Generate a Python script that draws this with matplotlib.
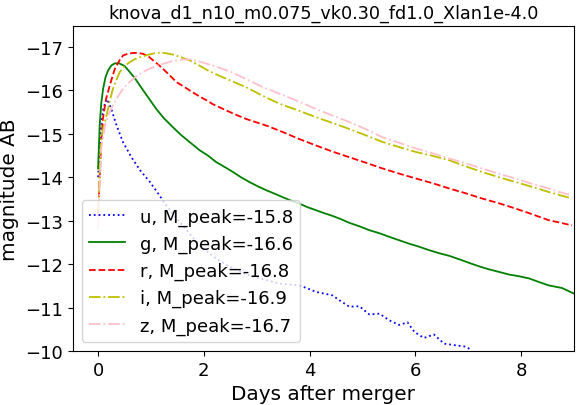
import numpy as np
from matplotlib import pyplot as plt

title = "knova_d1_n10_m0.075_vk0.30_fd1.0_Xlan1e-4.0"
bands = ["u", "g", "r", "i", "z"]
peaks = [-15.8, -16.6, -16.8, -16.9, -16.7]

t_u = [0.0, 0.05, 0.1, 0.17, 0.25, 0.35, 0.47, 0.63, 0.8, 0.98, 1.15, 1.29, 1.45, 1.6,
       1.75, 1.92, 2.08, 2.23, 2.4, 2.55, 2.7, 2.86, 3.02, 3.18, 3.34, 3.5, 3.65, 3.8,
       3.96, 4.12, 4.28, 4.43, 4.56, 4.75, 4.94, 5.13, 5.32, 5.5, 5.69, 5.85, 5.98,
       6.16, 6.35, 6.54, 6.76, 6.95, 7.02]
m_u = [-14.0, -15.1, -15.6, -15.8, -15.57, -15.19, -14.81, -14.46, -14.15, -13.89,
       -13.6, -13.35, -13.1, -12.89, -12.67, -12.43, -12.27, -12.13, -12.0, -11.9,
       -11.82, -11.74, -11.68, -11.63, -11.58, -11.54, -11.53, -11.51, -11.44, -11.36,
       -11.32, -11.28, -11.17, -11.02, -11.03, -10.84, -10.86, -10.71, -10.6, -10.66,
       -10.44, -10.3, -10.38, -10.17, -10.13, -10.1, -10.05]

t_g = [0.0, 0.03, 0.06, 0.094, 0.14, 0.19, 0.25, 0.315, 0.4, 0.5, 0.6, 0.7, 0.79, 0.95,
       1.1, 1.25, 1.415, 1.57, 1.73, 1.92, 2.075, 2.23, 2.4, 2.55, 2.7, 2.86, 3.02, 3.18,
       3.34, 3.49, 3.65, 3.81, 3.96, 4.12, 4.28, 4.43, 4.6, 4.75, 4.94, 5.13, 5.32, 5.5,
       5.69, 5.88, 6.07, 6.26, 6.45, 6.64, 6.83, 7.01, 7.2, 7.39, 7.58, 7.77, 7.96, 8.15,
       8.33, 8.52, 8.77, 9.0]
m_g = [-14.2, -15.2, -15.7, -16.03, -16.3, -16.46, -16.57, -16.62, -16.62, -16.56,
       -16.42, -16.27, -16.11, -15.83, -15.57, -15.35, -15.15, -14.97, -14.81, -14.62,
       -14.5, -14.35, -14.23, -14.12, -14.0, -13.89, -13.79, -13.70, -13.62, -13.54,
       -13.46, -13.39, -13.31, -13.24, -13.17, -13.11, -13.03, -12.95, -12.87, -12.78,
       -12.71, -12.63, -12.55, -12.47, -12.40, -12.32, -12.25, -12.19, -12.11, -12.03,
       -11.95, -11.88, -11.82, -11.76, -11.72, -11.67, -11.59, -11.51, -11.45, -11.32]

t_r = [0.0, 0.03, 0.06, 0.09, 0.15, 0.22, 0.315, 0.4, 0.47, 0.56, 0.66, 0.75, 0.85,
       0.95, 1.04, 1.13, 1.23, 1.35, 1.48, 1.6, 1.73, 1.9, 2.05, 2.17, 2.4, 2.6, 2.8,
       3.0, 3.2, 3.49, 3.8, 4.12, 4.43, 4.75, 5.07, 5.38, 5.7, 6.01, 6.33, 6.64, 6.95,
       7.26, 7.58, 7.89, 8.2, 8.52, 8.75, 8.96]
m_r = [-13.1, -14.0, -14.8, -15.34, -15.8, -16.11, -16.49, -16.68, -16.8, -16.84,
       -16.86, -16.86, -16.84, -16.78, -16.69, -16.6, -16.49, -16.35, -16.19, -16.1,
       -16.0, -15.87, -15.77, -15.68, -15.55, -15.44, -15.34, -15.26, -15.18, -15.04,
       -14.88, -14.73, -14.59, -14.46, -14.33, -14.2, -14.08, -13.97, -13.86, -13.74,
       -13.63, -13.51, -13.4, -13.28, -13.15, -13.01, -12.95, -12.89]

t_i = [0.0, 0.03, 0.06, 0.1, 0.16, 0.22, 0.28, 0.35, 0.41, 0.5, 0.6, 0.7, 0.79, 0.95,
       1.1, 1.25, 1.42, 1.57, 1.73, 1.9, 2.07, 2.3, 2.55, 2.8, 3.1, 3.43, 3.8, 4.12,
       4.43, 4.75, 5.07, 5.38, 5.7, 6.01, 6.33, 6.64, 6.95, 7.26, 7.58, 7.89, 8.2, 8.52,
       8.75, 8.96]
m_i = [-13.2, -14.2, -14.89, -15.15, -15.42, -15.75, -16.03, -16.25, -16.42, -16.56,
       -16.65, -16.72, -16.76, -16.82, -16.86, -16.86, -16.82, -16.76, -16.69, -16.58,
       -16.46, -16.33, -16.2, -16.07, -15.88, -15.69, -15.53, -15.38, -15.25, -15.11,
       -14.96, -14.81, -14.69, -14.58, -14.49, -14.39, -14.25, -14.12, -14.0, -13.89,
       -13.78, -13.66, -13.58, -13.51]

t_z = [0.0, 0.03, 0.06, 0.13, 0.2, 0.28, 0.37, 0.47, 0.56, 0.66, 0.78, 0.91, 1.07,
       1.23, 1.4, 1.6, 1.76, 1.92, 2.17, 2.5, 2.8, 3.1, 3.43, 3.8, 4.12, 4.43, 4.75,
       5.07, 5.38, 5.7, 6.01, 6.33, 6.64, 6.95, 7.26, 7.58, 7.89, 8.2, 8.52, 8.75, 8.96]
m_z = [-12.8, -13.8, -14.66, -15.19, -15.45, -15.65, -15.85, -16.03, -16.15, -16.26,
       -16.37, -16.46, -16.55, -16.61, -16.67, -16.71, -16.71, -16.66, -16.57, -16.43,
       -16.26, -16.08, -15.92, -15.74, -15.57, -15.42, -15.27, -15.1, -14.92, -14.79,
       -14.66, -14.55, -14.43, -14.32, -14.2, -14.08, -13.97, -13.85, -13.74, -13.65,
       -13.58]

times = [t_u, t_g, t_r, t_i, t_z]
mags = [m_u, m_g, m_r, m_i, m_z]
colors = ['b', 'g', 'r', 'y', 'pink']
styles = [':', '-', '--', '-.', '-.']

fig = plt.figure(figsize=(5.77, 4.06), dpi=100)
ax = fig.add_subplot(111)
fig.subplots_adjust(left=0.126, right=0.995, top=0.9335, bottom=0.133)

for b, pk, t, m, c, ls in zip(bands, peaks, times, mags, colors, styles):
    ax.plot(t, m, color=c, linestyle=ls, lw=1.3, label="%s, M_peak=%.1f" % (b, pk))

ax.set_xlim(-0.48, 9.0)
ax.set_ylim(-10, -17.48)
ax.set_xlabel("Days after merger", fontsize=14.4)
ax.set_ylabel("magnitude AB", fontsize=14.4)
ax.set_title(title, fontsize=12.7)
ax.tick_params(labelsize=13)
ax.legend(loc='lower left', fontsize=13)

plt.savefig("out.png", dpi=100)
